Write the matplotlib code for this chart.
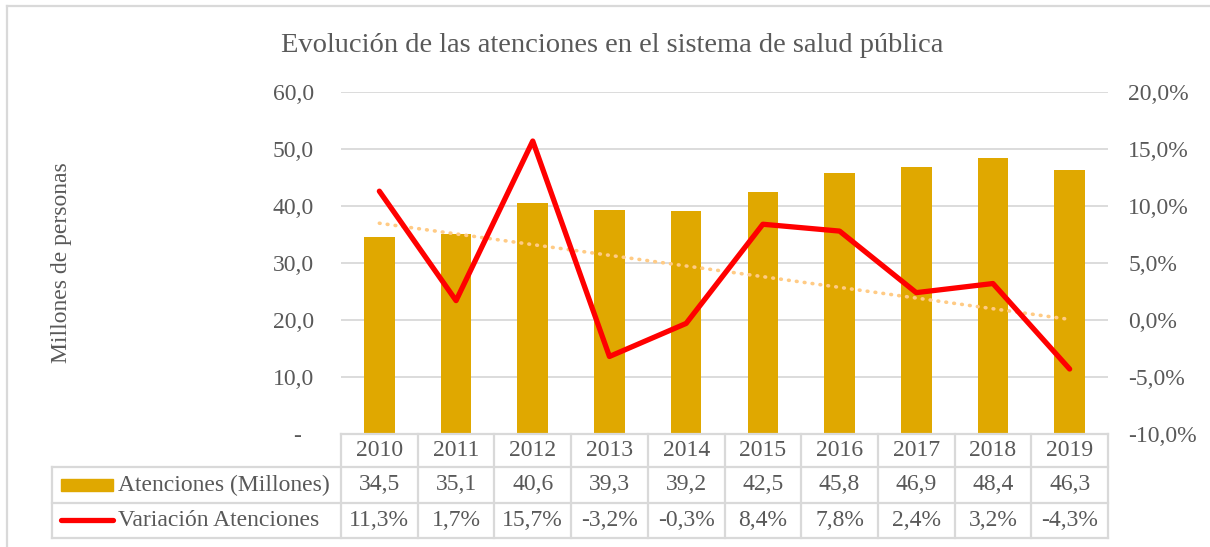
import numpy as np
import matplotlib
matplotlib.use("Agg")
import matplotlib.pyplot as plt
from matplotlib.lines import Line2D
from matplotlib.patches import Rectangle

years = ["2010", "2011", "2012", "2013", "2014", "2015", "2016", "2017", "2018", "2019"]
atenciones = [34.5, 35.1, 40.6, 39.3, 39.2, 42.5, 45.8, 46.9, 48.4, 46.3]
variacion = [11.3, 1.7, 15.7, -3.2, -0.3, 8.4, 7.8, 2.4, 3.2, -4.3]
left_ticks = [0, 10, 20, 30, 40, 50, 60]
left_labels = ["-  ", "10,0", "20,0", "30,0", "40,0", "50,0", "60,0"]
right_ticks = [-10, -5, 0, 5, 10, 15, 20]
right_labels = ["-10,0%", "-5,0%", "0,0%", "5,0%", "10,0%", "15,0%", "20,0%"]
title = "Evolución de las atenciones en el sistema de salud pública"
ylabel = "Millones de personas"
series_names = ["Atenciones (Millones)", "Variación Atenciones"]

W, H = 1210, 547
plt.rcParams['font.family'] = ['Liberation Serif', 'DejaVu Serif']
TXT = '#595959'
GRID = '#d9d9d9'
GOLD = '#E0A800'
RED = '#FF0000'
TREND = '#FFCB85'
FS = 17

fig = plt.figure(figsize=(W / 100, H / 100), dpi=100)

def fx(px):
    return px / W

def fy(py):
    return 1 - py / H

ax_l, ax_r, ax_t, ax_b = 341, 1108, 92, 434
ax = fig.add_axes([fx(ax_l), fy(ax_b), fx(ax_r - ax_l), (ax_b - ax_t) / H])
x = np.arange(len(years))
ax.bar(x, atenciones, width=0.4, color=GOLD, zorder=3)
ax.set_xlim(-0.5, len(years) - 0.5)
ax.set_ylim(0, 60)
ax.set_yticks(left_ticks)
ax.set_yticklabels(left_labels)
ax.set_xticks([])
for s in ax.spines.values():
    s.set_visible(False)
ax.tick_params(axis='y', length=0, pad=19.5, labelsize=FS, labelcolor=TXT)
for t in left_ticks[1:]:
    ax.axhline(t, color=GRID, lw=1.3, zorder=1)
ax.set_ylabel(ylabel, fontsize=FS, color=TXT, labelpad=0)
ax.yaxis.set_label_coords((72 - ax_l) / (ax_r - ax_l), 0.5)

ax2 = ax.twinx()
ax2.set_ylim(-10, 20)
ax2.set_yticks(right_ticks)
ax2.set_yticklabels(right_labels)
for s in ax2.spines.values():
    s.set_visible(False)
ax2.tick_params(axis='y', length=0, pad=14.5, labelsize=FS, labelcolor=TXT)
coef = np.polyfit(x, variacion, 1)
trend = np.polyval(coef, x)
ax2.plot(x, trend, color=TREND, lw=2.6, ls=(0, (0.2, 2.0)), dash_capstyle='round', zorder=4)
ax2.plot(x, variacion, color=RED, lw=3.8, solid_capstyle='round', solid_joinstyle='round', zorder=5)

fig.text(0.506, fy(46), title, ha='center', va='center', fontsize=20.5, color=TXT)

# Data table
col_w = (ax_r - ax_l) / len(years)
rows_y = [434, 467, 503, 538]
tab_left = 52
line_kw = dict(color=GRID, lw=1.6, transform=fig.transFigure)
fig.add_artist(Line2D([fx(ax_l), fx(ax_r)], [fy(rows_y[0])] * 2, **line_kw))
for ry in rows_y[1:]:
    fig.add_artist(Line2D([fx(tab_left), fx(ax_r)], [fy(ry)] * 2, **line_kw))
for i in range(len(years) + 1):
    xp = ax_l + i * col_w
    fig.add_artist(Line2D([fx(xp)] * 2, [fy(rows_y[0]), fy(rows_y[3])], **line_kw))
fig.add_artist(Line2D([fx(tab_left)] * 2, [fy(rows_y[1]), fy(rows_y[3])], **line_kw))

for i, yr in enumerate(years):
    cx = fx(ax_l + (i + 0.5) * col_w)
    fig.text(cx, fy((rows_y[0] + rows_y[1]) / 2), yr, ha='center', va='center', fontsize=FS, color=TXT)
    fig.text(cx, fy((rows_y[1] + rows_y[2]) / 2), f"{atenciones[i]:.1f}".replace('.', ','),
             ha='center', va='center', fontsize=FS, color=TXT)
    fig.text(cx, fy((rows_y[2] + rows_y[3]) / 2), f"{variacion[i]:.1f}%".replace('.', ','),
             ha='center', va='center', fontsize=FS, color=TXT)

fig.add_artist(Rectangle((fx(61), fy(491)), fx(52), 12 / H, color=GOLD, transform=fig.transFigure))
fig.add_artist(Line2D([fx(61), fx(113)], [fy(520)] * 2, color=RED, lw=3.8, solid_capstyle='round',
                      transform=fig.transFigure))
fig.text(fx(118), fy((rows_y[1] + rows_y[2]) / 2), series_names[0], ha='left', va='center', fontsize=FS, color=TXT)
fig.text(fx(118), fy((rows_y[2] + rows_y[3]) / 2), series_names[1], ha='left', va='center', fontsize=FS, color=TXT)

fig.add_artist(Line2D([fx(7), fx(W + 5)], [fy(6)] * 2, color=GRID, lw=1.6, transform=fig.transFigure))
fig.add_artist(Line2D([fx(7)] * 2, [fy(6), fy(H + 5)], color=GRID, lw=1.6, transform=fig.transFigure))

fig.savefig("out.png", dpi=100)
